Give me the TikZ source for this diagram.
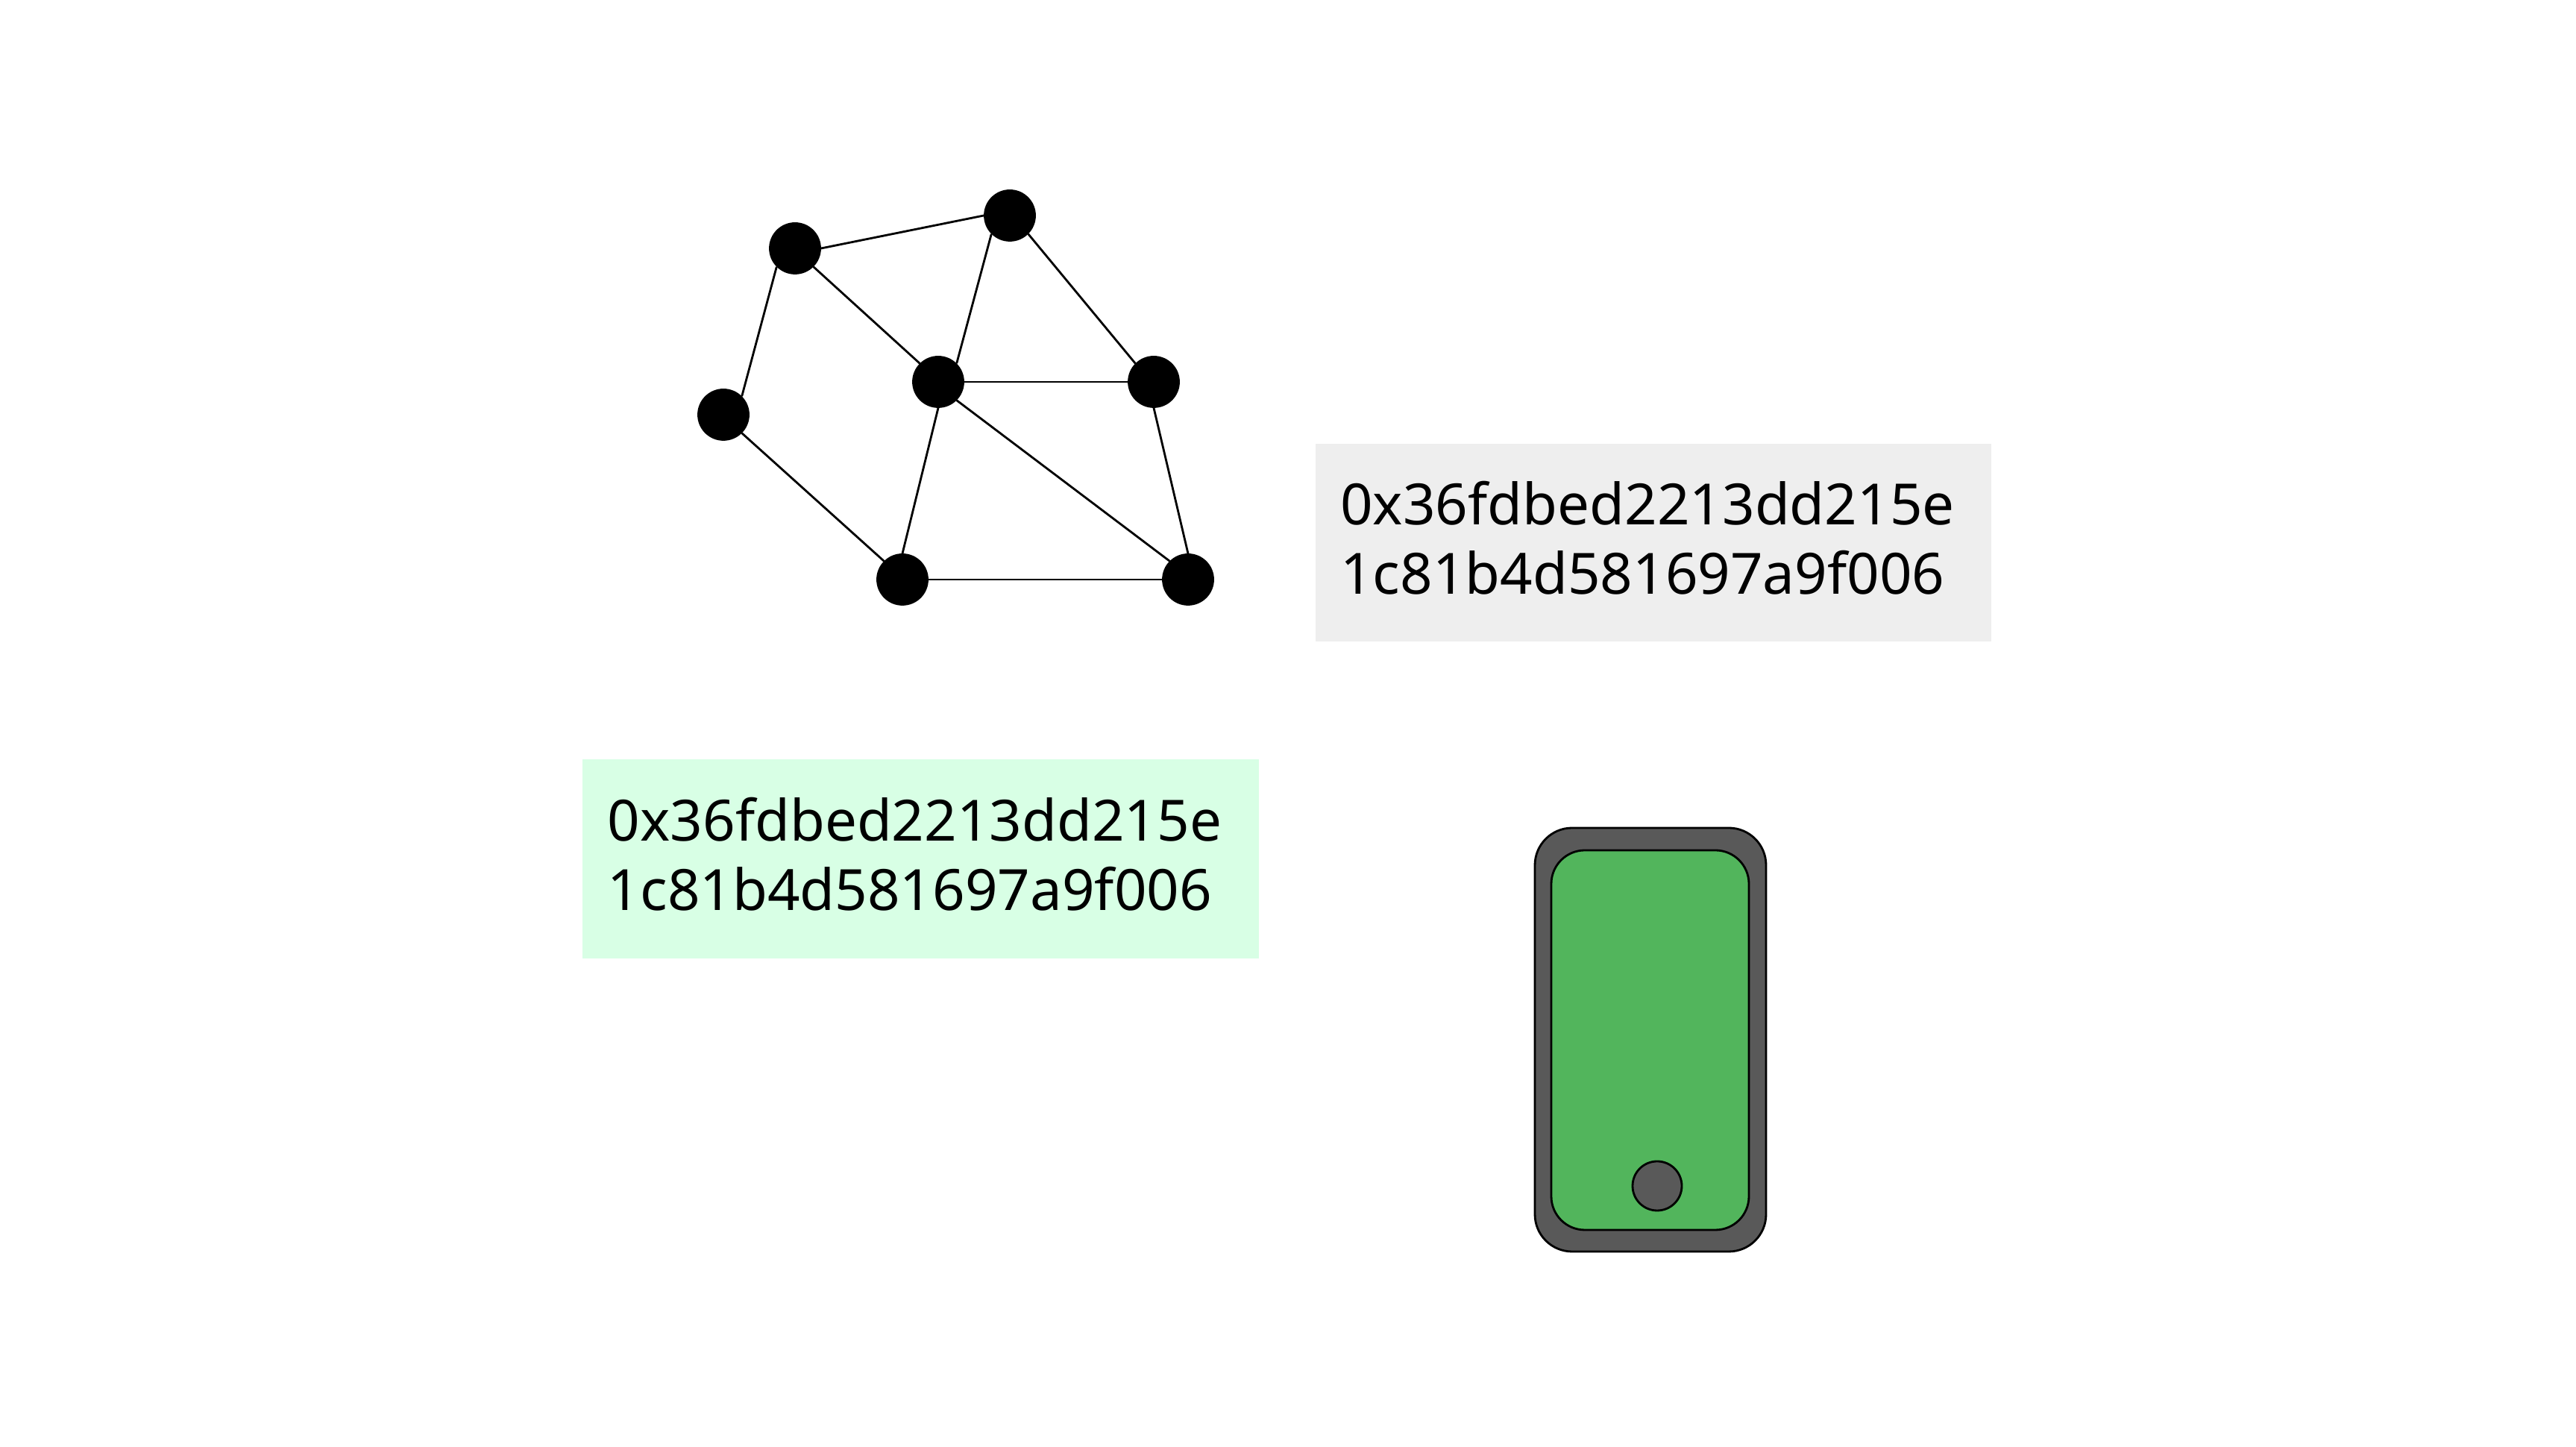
\documentclass[tikz,border=0pt]{standalone}
\usepackage{fontspec}
\setmainfont{Noto Sans}
\definecolor{hashgray}{HTML}{EEEEEE}
\definecolor{hashgreen}{HTML}{D8FFE5}
\definecolor{phonebody}{HTML}{595959}
\definecolor{phonescreen}{HTML}{52B55C}
\tikzset{
  peer/.style={circle, fill=black, draw=black, inner sep=0pt, minimum size=0.67cm},
  hash/.style={align=left, font=\fontsize{21.7}{26.4}\selectfont, xshift=-0.08cm, yshift=0.06cm}
}

\begin{document}
\begin{tikzpicture}[line width=0.8pt]
    \useasboundingbox (0,0) rectangle (34.54,19.40);
    % network of peers
    \node[peer] (a) at (10.66,16.07) {};
    \node[peer] (b) at (13.54,16.51) {};
    \node[peer] (c) at (9.70,13.84) {};
    \node[peer] (d) at (12.58,14.28) {};
    \node[peer] (e) at (15.47,14.28) {};
    \node[peer] (f) at (12.10,11.63) {};
    \node[peer] (g) at (15.93,11.63) {};
    \draw (a.east) -- (b.west);
    \draw (a.south west) -- (c.north east);
    \draw (a.south east) -- (d.north west);
    \draw (b.south west) -- (d.north east);
    \draw (b.south east) -- (e.north west);
    \draw (c.south east) -- (f.north west);
    \draw (d.east) -- (e.west);
    \draw (d.south) -- (f.north);
    \draw (d.south east) -- (g.north west);
    \draw (e.south) -- (g.north);
    \draw (f.east) -- (g.west);
    % 2 rectangles with the hash
    \path[fill=hashgray] (17.64,13.45) rectangle (26.70,10.80) node[pos=.5, hash] (hashtop) {0x36fdbed2213dd215e\\1c81b4d581697a9f006};
    \path[fill=hashgreen] (7.81,9.22) rectangle (16.88,6.55) node[pos=.5, hash] (hashbottom) {0x36fdbed2213dd215e\\1c81b4d581697a9f006};
    % phone
    \draw[fill=phonebody, rounded corners=0.5cm] (20.58,8.30) rectangle (23.68,2.62);
    \draw[fill=phonescreen, rounded corners=0.45cm] (20.80,8.00) rectangle (23.45,2.91);
    \draw[fill=phonebody] (22.22,3.50) circle (0.33);
\end{tikzpicture}
\end{document}
